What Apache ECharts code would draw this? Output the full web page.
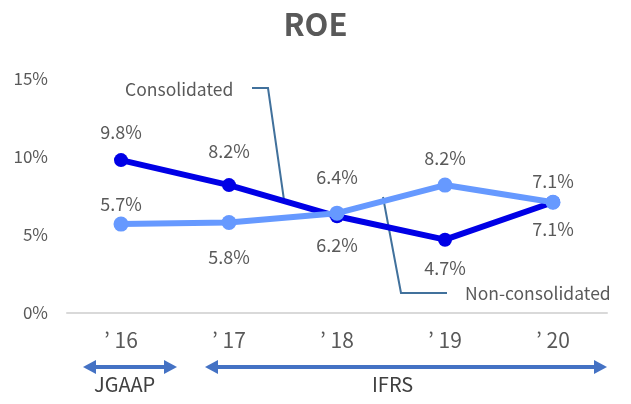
<!DOCTYPE html>
<html>
<head>
<meta charset="utf-8">
<script src="https://cdn.jsdelivr.net/npm/echarts@6/dist/echarts.min.js"></script>
<style>
  html, body { margin: 0; padding: 0; background: #fff; }
  #chart { width: 631px; height: 404px; }
</style>
</head>
<body>
<div id="chart"></div>
<script>
// data
const years = ['’16', '’17', '’18', '’19', '’20']
const consolidated = [9.8, 8.2, 6.2, 4.7, 7.1]
const nonConsolidated = [5.7, 5.8, 6.4, 8.2, 7.1]

// label placement (style only)
const consPos = ['top', 'top', 'bottom', 'bottom', 'bottom']
const consDist = [12, 18, 13, 12, 11]
const nonPos = ['top', 'bottom', 'top', 'top', 'top']
const nonDist = [3, 18, 20, 10, 5]

const font = '"Noto Sans CJK JP", "Noto Sans", sans-serif'
const grey = '#595959'

function withLabels(values, pos, dist) {
  return values.map((v, i) => ({
    value: v,
    label: { position: pos[i], distance: dist[i] }
  }))
}

function arrow(x1, x2, y, color) {
  const h = 7, w = 13
  return [
    { type: 'line', shape: { x1: x1 + w - 2, y1: y, x2: x2 - w + 2, y2: y }, style: { stroke: color, lineWidth: 4 } },
    { type: 'polygon', shape: { points: [[x1, y], [x1 + w, y - h], [x1 + w, y + h]] }, style: { fill: color } },
    { type: 'polygon', shape: { points: [[x2, y], [x2 - w, y - h], [x2 - w, y + h]] }, style: { fill: color } }
  ]
}

const chart = echarts.init(document.getElementById('chart'))
const calloutColor = '#41719C'
const arrowColor = '#4472C4'

chart.setOption({
  animation: false,
  textStyle: { fontFamily: font },
  title: {
    text: 'ROE',
    left: 'center',
    top: 4,
    textStyle: { fontSize: 31, fontWeight: 'bold', color: grey, fontFamily: font }
  },
  grid: { left: 67, right: 24, top: 79, bottom: 91 },
  xAxis: {
    type: 'category',
    data: years,
    axisLine: { lineStyle: { color: '#d9d9d9', width: 2 } },
    axisTick: { show: false },
    axisLabel: {
      color: grey, fontSize: 21, margin: 17, fontFamily: font,
      formatter: v => v.replace('’', '’ ')
    }
  },
  yAxis: {
    type: 'value',
    min: 0,
    max: 15,
    interval: 5,
    splitLine: { show: false },
    axisLine: { show: false },
    axisTick: { show: false },
    axisLabel: { color: grey, fontSize: 17, margin: 19, formatter: '{value}%', fontFamily: font }
  },
  series: [
    {
      name: 'Consolidated',
      type: 'line',
      data: withLabels(consolidated, consPos, consDist),
      symbol: 'circle',
      symbolSize: 14,
      lineStyle: { color: '#0000E6', width: 6 },
      itemStyle: { color: '#0000E6' },
      label: { show: true, formatter: '{c}%', color: grey, fontSize: 18, fontFamily: font },
      z: 2
    },
    {
      name: 'Non-consolidated',
      type: 'line',
      data: withLabels(nonConsolidated, nonPos, nonDist),
      symbol: 'circle',
      symbolSize: 15,
      lineStyle: { color: '#6699FF', width: 6 },
      itemStyle: { color: '#6699FF' },
      label: { show: true, formatter: '{c}%', color: grey, fontSize: 18, fontFamily: font },
      z: 3
    }
  ],
  graphic: [
    { type: 'text', left: 125, top: 81, style: { text: 'Consolidated', fill: grey, fontSize: 17.5, fontFamily: font } },
    { type: 'polyline', shape: { points: [[252, 88], [268, 88], [284, 200]] }, style: { stroke: calloutColor, lineWidth: 2, fill: null } },
    { type: 'text', left: 465, top: 285, style: { text: 'Non-consolidated', fill: grey, fontSize: 17.5, fontFamily: font } },
    { type: 'polyline', shape: { points: [[447, 293], [401, 293], [383, 197]] }, style: { stroke: calloutColor, lineWidth: 2, fill: null } },
    ...arrow(83, 177, 367, arrowColor),
    ...arrow(205, 607, 367, arrowColor),
    { type: 'text', left: 94, top: 374, style: { text: 'JGAAP', fill: '#404040', fontSize: 20, fontFamily: font } },
    { type: 'text', left: 372, top: 374, style: { text: 'IFRS', fill: '#404040', fontSize: 20, fontFamily: font } }
  ]
})
</script>
</body>
</html>
